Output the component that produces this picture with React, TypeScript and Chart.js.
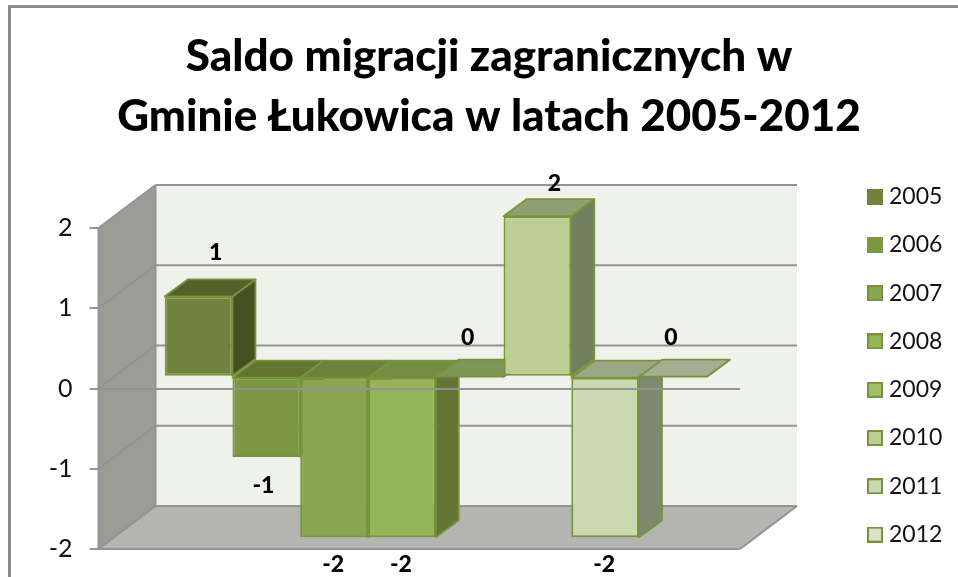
import React, { useEffect, useRef } from "react";
import { Chart, registerables } from "chart.js";

Chart.register(...registerables);

const titleLines = ["Saldo migracji zagranicznych w", "Gminie Łukowica w latach 2005-2012"];
const categories = ["Saldo"];
const years = ["2005", "2006", "2007", "2008", "2009", "2010", "2011", "2012"];
const values = [1, -1, -2, -2, 0, 2, -2, 0];
const frontColors = ["#6F833C", "#7D9644", "#8AA650", "#95B558", "#A3BF6C", "#BDCE95", "#CBD9B0", "#DAE4CC"];
const topColors = ["#536029", "#627530", "#6C813A", "#748C3F", "#7F9857", "#8E9F72", "#9CA787", "#A6AE96"];
const sideColors = ["#465123", "#56672B", "#5E7233", "#637634", "#6C7F4C", "#727F5F", "#7D8970", "#8A9280"];
const legendBorders = ["#6F833C", "#7D9644", "#77933C", "#77933C", "#77933C", "#77933C", "#77933C", "#77933C"];
const BORDER = "#77933C";
const GRID = "#939393";
const labelNudges = [[17, -44], [-3, 29], [-1, 27], [-1, 27], [-2, -39], [17, -33], [-1, 27], [-2, -39]];

const WALL_DX = 57, WALL_DY = -43;
const BAR_OFF_X = 16.5, BAR_OFF_Y = -11.8;
const BAR_DX = 23, BAR_DY = -17;

function poly(ctx: CanvasRenderingContext2D, pts: number[][], fill: string | null, stroke?: string, lw = 2) {
  ctx.beginPath();
  pts.forEach((p, i) => (i ? ctx.lineTo(p[0], p[1]) : ctx.moveTo(p[0], p[1])));
  ctx.closePath();
  if (fill) { ctx.fillStyle = fill; ctx.fill(); }
  if (stroke) { ctx.strokeStyle = stroke; ctx.lineWidth = lw; ctx.lineJoin = "round"; ctx.stroke(); }
}
function seg(ctx: CanvasRenderingContext2D, x1: number, y1: number, x2: number, y2: number) {
  ctx.beginPath(); ctx.moveTo(x1, y1); ctx.lineTo(x2, y2); ctx.strokeStyle = GRID; ctx.lineWidth = 2; ctx.stroke();
}
function swatch(fill: string, stroke: string) {
  const c = document.createElement("canvas");
  c.width = 16; c.height = 16;
  const g = c.getContext("2d")!;
  g.fillStyle = fill; g.fillRect(0, 0, 16, 16);
  g.strokeStyle = stroke; g.lineWidth = 2; g.strokeRect(1, 1, 14, 14);
  return c;
}

const scene3d = {
  id: "scene3d",
  beforeLayout(chart: any) {
    const l = chart.legend;
    if (l && !l.__wrapped) {
      l.__wrapped = true;
      const fit = l.fit;
      l.fit = function () { fit.call(this); this.width = 218; };
    }
  },
  afterLayout(chart: any) {
    const l = chart.legend;
    const pad = l.options.labels.padding;
    l.left = 872.5 - pad; l.right = 958; l.top = 185 - pad; l.bottom = 900;
  },
  beforeDraw(chart: any) {
    const ctx = chart.ctx;
    ctx.save();
    ctx.fillStyle = "#ffffff";
    ctx.fillRect(0, 0, chart.width, chart.height);
    ctx.fillStyle = "#8A8A8A";
    ctx.fillRect(8, 5, chart.width - 8, 3);
    ctx.fillRect(8, 5, 3, chart.height - 5);
    ctx.restore();
  },
  beforeDatasetsDraw(chart: any) {
    const ctx = chart.ctx as CanvasRenderingContext2D;
    const { left, right } = chart.chartArea;
    const y = chart.scales.y;
    const yTop = y.getPixelForValue(2), yBot = y.getPixelForValue(-2);
    ctx.save();
    poly(ctx, [[left, yTop], [left + WALL_DX, yTop + WALL_DY], [left + WALL_DX, yBot + WALL_DY], [left, yBot]], "#9A9C95");
    poly(ctx, [[left + WALL_DX, yTop + WALL_DY], [right + WALL_DX, yTop + WALL_DY], [right + WALL_DX, yBot + WALL_DY], [left + WALL_DX, yBot + WALL_DY]], "#EFF1EB");
    poly(ctx, [[left, yBot], [left + WALL_DX, yBot + WALL_DY], [right + WALL_DX, yBot + WALL_DY], [right, yBot]], "#B3B5AE");
    for (let v = -2; v <= 2; v++) {
      const p = y.getPixelForValue(v);
      seg(ctx, left, p, left + WALL_DX, p + WALL_DY);
      seg(ctx, left + WALL_DX, p + WALL_DY, right + WALL_DX, p + WALL_DY);
    }
    seg(ctx, left + WALL_DX, yTop + WALL_DY, left + WALL_DX, yBot + WALL_DY);
    seg(ctx, left, yTop, left, yBot);
    seg(ctx, right, yBot, right + WALL_DX, yBot + WALL_DY);

    years.forEach((_, i) => {
      const meta = chart.getDatasetMeta(i);
      const bar = meta.data[0];
      const hw = bar.width / 2;
      const x0 = bar.x - hw + BAR_OFF_X, x1 = bar.x + hw + BAR_OFF_X;
      const top = Math.min(bar.y, bar.base) + BAR_OFF_Y;
      const bot = Math.max(bar.y, bar.base) + BAR_OFF_Y;
      poly(ctx, [[x1, top], [x1 + BAR_DX, top + BAR_DY], [x1 + BAR_DX, bot + BAR_DY], [x1, bot]], sideColors[i], BORDER, 1.75);
      poly(ctx, [[x0, top], [x0 + BAR_DX, top + BAR_DY], [x1 + BAR_DX, top + BAR_DY], [x1, top]], topColors[i], BORDER, 1.75);
      ctx.save();
      ctx.translate(BAR_OFF_X, BAR_OFF_Y);
      meta.controller.draw();
      ctx.restore();
    });
    ctx.restore();
  },
  beforeDatasetDraw() {
    return false;
  },
  afterDraw(chart: any) {
    const ctx = chart.ctx as CanvasRenderingContext2D;
    ctx.save();
    ctx.fillStyle = "#000000";
    ctx.font = "900 23px Lato";
    ctx.textAlign = "center";
    ctx.textBaseline = "middle";
    years.forEach((_, i) => {
      const bar = chart.getDatasetMeta(i).data[0];
      const [nx, ny] = labelNudges[i];
      const edge = values[i] < 0 ? Math.max(bar.y, bar.base) : Math.min(bar.y, bar.base);
      ctx.fillText(String(values[i]), bar.x + BAR_OFF_X + nx, edge + BAR_OFF_Y + ny);
    });
    ctx.restore();
  },
};

export default function App() {
  const ref = useRef<HTMLCanvasElement>(null);
  useEffect(() => {
    const chart = new Chart(ref.current!, {
      type: "bar",
      data: {
        labels: categories,
        datasets: years.map((yr, i) => ({
          label: yr,
          data: [values[i]],
          backgroundColor: frontColors[i],
          borderColor: BORDER,
          borderWidth: 2,
          borderSkipped: false,
          categoryPercentage: 0.845,
          barPercentage: 1,
        })),
      },
      options: {
        responsive: false,
        animation: false,
        layout: { padding: { left: 20, right: 0, top: 0, bottom: 28 } },
        plugins: {
          tooltip: { enabled: false },
          title: {
            display: true,
            text: titleLines,
            color: "#000000",
            font: { family: "Lato", size: 44, weight: "900", lineHeight: 60 / 44 },
            padding: { top: 27, bottom: 81 },
          },
          legend: {
            display: true,
            position: "right",
            align: "start",
            labels: {
              color: "#111111",
              font: { family: "Lato", size: 23 },
              usePointStyle: true,
              pointStyleWidth: 5,
              padding: 25.3,
              generateLabels: () =>
                years.map((yr, i) => ({
                  text: yr,
                  datasetIndex: i,
                  hidden: false,
                  fontColor: "#111111",
                  pointStyle: swatch(frontColors[i], legendBorders[i]),
                })),
            },
          },
        },
        scales: {
          x: { display: false },
          y: {
            min: -2,
            max: 2,
            afterFit: (s: any) => { s.width = 78.5; s.paddingTop = 0; s.paddingBottom = 0; },
            ticks: { stepSize: 1, padding: 17, color: "#111111", font: { family: "Lato", size: 25 } },
            border: { display: false },
            grid: {
              z: 1,
              lineWidth: 2,
              tickLength: 9,
              tickColor: GRID,
              color: (c: any) => (c.tick && (c.tick.value === 0 || c.tick.value === -2) ? GRID : "rgba(0,0,0,0)"),
            },
          },
        },
      } as any,
      plugins: [scene3d as any],
    });
    return () => chart.destroy();
  }, []);
  return (
    <div style={{ position: "absolute", left: 0, top: 0, width: 958, height: 577, overflow: "hidden" }}>
      <canvas ref={ref} width={958} height={577} style={{ display: "block" }} />
    </div>
  );
}
